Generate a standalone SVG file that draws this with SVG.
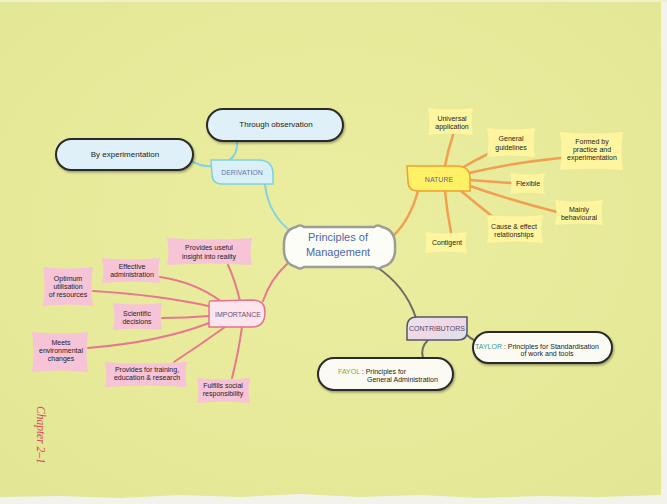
<svg xmlns="http://www.w3.org/2000/svg" width="667" height="504" viewBox="0 0 667 504">
<defs>
<radialGradient id="paper" cx="0.5" cy="0.45" r="0.7">
<stop offset="0" stop-color="#ecee9f"/>
<stop offset="1" stop-color="#e2e795"/>
</radialGradient>
<linearGradient id="contrib" x1="0" y1="0" x2="1" y2="1">
<stop offset="0" stop-color="#e8e4f0"/>
<stop offset="0.5" stop-color="#f0d8e4"/>
<stop offset="1" stop-color="#d8e4ee"/>
</linearGradient>
<filter id="soft" x="-10%" y="-10%" width="120%" height="120%">
<feGaussianBlur stdDeviation="0.7"/>
</filter>
<filter id="shadow" x="-10%" y="-20%" width="125%" height="150%">
<feDropShadow dx="1" dy="1.5" stdDeviation="0.8" flood-color="#000" flood-opacity="0.35"/>
</filter>
</defs>
<style>
text{font-family:"Liberation Sans",Arial,sans-serif;fill:#222;}
.c{text-anchor:middle;font-size:7px;}
.p{text-anchor:middle;font-size:8px;}
.lbl{text-anchor:middle;font-size:7px;}
.ylw{fill:#fff59e;filter:url(#soft);}
.pnk{fill:#f7c3d6;filter:url(#soft);}
.pill{stroke:#2a2a2a;stroke-width:2;filter:url(#shadow);}
.blue{fill:#dff0f8;}
.white{fill:#fbfbf4;}
.conn{fill:none;stroke-linecap:round;}
.or{stroke:#f0a050;stroke-width:2.5;}
.pk{stroke:#e8788f;stroke-width:2;}
.cy{stroke:#86d2e2;stroke-width:2;}
.gy{stroke:#6c6c66;stroke-width:2;}
</style>
<rect x="0" y="0" width="667" height="504" fill="url(#paper)"/>
<rect x="661" y="0" width="6" height="504" fill="#f3f3ec"/>
<path d="M0,497 L60,496 L120,498 L180,495 L240,497 L300,494 L360,497 L420,495 L480,498 L540,496 L600,497 L661,495 L667,504 L0,504 Z" fill="#f3f3ec"/>
<rect x="0" y="0" width="667" height="2" fill="#eef0c8"/>

<g id="connectors">
<path class="conn cy" d="M193,162 Q203,167 212,166"/>
<path class="conn cy" d="M237,141 Q238,155 229,160"/>
<path class="conn cy" d="M265,184 Q268,215 293,233"/>
<path class="conn or" d="M393,236 Q410,220 418,191"/>
<path class="conn or" d="M445,166 Q448,150 453,135"/>
<path class="conn or" d="M462,168 Q475,160 488,154"/>
<path class="conn or" d="M469,173 Q510,163 561,158"/>
<path class="conn or" d="M470,180 L511,183"/>
<path class="conn or" d="M470,186 Q510,200 557,212"/>
<path class="conn or" d="M461,191 Q478,205 493,217"/>
<path class="conn or" d="M445,191 Q447,212 451,232"/>
<path class="conn pk" d="M263,301 Q270,280 287,264"/>
<path class="conn pk" d="M240,301 Q235,280 228,265"/>
<path class="conn pk" d="M222,302 Q195,282 160,277"/>
<path class="conn pk" d="M213,307 Q160,295 93,291"/>
<path class="conn pk" d="M209,316 Q185,318 162,318"/>
<path class="conn pk" d="M209,323 Q160,342 88,348"/>
<path class="conn pk" d="M225,327 Q200,345 174,362"/>
<path class="conn pk" d="M242,327 Q238,355 232,378"/>
<path class="conn gy" d="M375,266 Q405,285 416,318"/>
<path class="conn gy" d="M467,335 Q470,338 474,340"/>
<path class="conn gy" d="M428,340 Q420,348 423,358"/>
</g>

<g id="center">
<path d="M296,227 Q300,224 304,227 L374,227 Q378,224 382,227 Q396,230 395,247 Q396,264 382,267 Q378,270 374,267 L304,267 Q300,270 296,267 Q283,264 284,247 Q283,230 296,227 Z" fill="#fdfdf8" stroke="#9c9c98" stroke-width="2.5"/>
<text x="338" y="241" style="text-anchor:middle;font-size:11px;fill:#4a68a8;">Principles of</text>
<text x="338" y="256" style="text-anchor:middle;font-size:11px;fill:#4a68a8;">Management</text>
</g>

<g id="derivation">
<path d="M211,160 L258,160 Q273,160 273,174 L273,184 L222,184 Q212,184 212,174 Z" fill="#d9f0f6" stroke="#80d0e0" stroke-width="1.5"/>
<text class="lbl" x="242" y="174.5" style="fill:#6876ae;">DERIVATION</text>
</g>
<g id="through-observation">
<rect class="pill blue" x="207" y="109" width="136" height="32" rx="16"/>
<text class="p" x="276" y="127">Through observation</text>
</g>
<g id="by-experimentation">
<rect class="pill blue" x="56" y="139" width="137" height="31" rx="15.5"/>
<text class="p" x="125" y="157">By experimentation</text>
</g>

<g id="nature">
<path d="M407,166 L456,166 Q470,166 470,178 L470,191 L418,191 Q408,191 408,181 Z" fill="#fff165" stroke="#f0a030" stroke-width="1.5"/>
<text class="lbl" x="439" y="181.5" style="fill:#6a5a9c;">NATURE</text>
</g>
<g id="universal-application">
<path class="ylw" d="M428,108 Q450.5,111 473,108 Q470,121.5 473,135 Q450.5,132 428,135 Q431,121.5 428,108 Z"/>
<text class="c" x="452" y="120.5">Universal</text>
<text class="c" x="452" y="128.5">application</text>
</g>
<g id="general-guidelines">
<path class="ylw" d="M487,128 Q511,131 535,128 Q532,142.5 535,157 Q511,154 487,157 Q490,142.5 487,128 Z"/>
<text class="c" x="511" y="140.5">General</text>
<text class="c" x="511" y="149.5">guidelines</text>
</g>
<g id="formed-by-practice">
<path class="ylw" d="M560,132 Q591.5,135 623,132 Q620,151 623,170 Q591.5,167 560,170 Q563,151 560,132 Z"/>
<text class="c" x="592" y="143.5">Formed by</text>
<text class="c" x="592" y="151.5">practice and</text>
<text class="c" x="592" y="159.5">experimentation</text>
</g>
<g id="flexible">
<path class="ylw" d="M510,173 Q527.5,176 545,173 Q542,183.5 545,194 Q527.5,191 510,194 Q513,183.5 510,173 Z"/>
<text class="c" x="528" y="186">Flexible</text>
</g>
<g id="mainly-behavioural">
<path class="ylw" d="M555,200 Q579,203 603,200 Q600,212.5 603,225 Q579,222 555,225 Q558,212.5 555,200 Z"/>
<text class="c" x="579" y="211.5">Mainly</text>
<text class="c" x="579" y="219.5">behavioural</text>
</g>
<g id="cause-effect">
<path class="ylw" d="M487,215 Q515,218 543,215 Q540,229 543,243 Q515,240 487,243 Q490,229 487,215 Z"/>
<text class="c" x="514" y="228.5">Cause &amp; effect</text>
<text class="c" x="514" y="236.5">relationships</text>
</g>
<g id="contigent">
<path class="ylw" d="M425,232 Q446,235 467,232 Q464,242.5 467,253 Q446,250 425,253 Q428,242.5 425,232 Z"/>
<text class="c" x="447" y="245">Contigent</text>
</g>

<g id="importance">
<path d="M210,301 L252,300 Q265,300 265,312 Q265,327 252,327 L209,327 L209,306 Q209,301 210,301 Z" fill="#fde5ed" stroke="#e87090" stroke-width="1.5"/>
<text class="lbl" x="238" y="316.5" style="fill:#7a4a6e;">IMPORTANCE</text>
</g>
<g id="provides-useful-insight">
<path class="pnk" d="M167,238 Q209.5,241 252,238 Q249,251.5 252,265 Q209.5,262 167,265 Q170,251.5 167,238 Z"/>
<text class="c" x="209" y="249.5">Provides useful</text>
<text class="c" x="209" y="258.5">insight into reality</text>
</g>
<g id="effective-administration">
<path class="pnk" d="M102,258 Q131,261 160,258 Q157,270.5 160,283 Q131,280 102,283 Q105,270.5 102,258 Z"/>
<text class="c" x="132" y="268.5">Effective</text>
<text class="c" x="132" y="276.5">administration</text>
</g>
<g id="optimum-utilisation">
<path class="pnk" d="M43,267 Q68,270 93,267 Q90,286.5 93,306 Q68,303 43,306 Q46,286.5 43,267 Z"/>
<text class="c" x="68" y="280.5">Optimum</text>
<text class="c" x="68" y="288.5">utilisation</text>
<text class="c" x="68" y="296.5">of resources</text>
</g>
<g id="scientific-decisions">
<path class="pnk" d="M113,303 Q137.5,306 162,303 Q159,316.5 162,330 Q137.5,327 113,330 Q116,316.5 113,303 Z"/>
<text class="c" x="137" y="315.5">Scientific</text>
<text class="c" x="137" y="323.5">decisions</text>
</g>
<g id="meets-environmental-changes">
<path class="pnk" d="M32,332 Q60,335 88,332 Q85,352 88,372 Q60,369 32,372 Q35,352 32,332 Z"/>
<text class="c" x="61" y="344.5">Meets</text>
<text class="c" x="61" y="352.5">environmental</text>
<text class="c" x="61" y="360.5">changes</text>
</g>
<g id="provides-for-training">
<path class="pnk" d="M105,362 Q146,365 187,362 Q184,374.5 187,387 Q146,384 105,387 Q108,374.5 105,362 Z"/>
<text class="c" x="147" y="371.5">Provides for training,</text>
<text class="c" x="147" y="379.5">education &amp; research</text>
</g>
<g id="fulfills-social-responsibility">
<path class="pnk" d="M197,378 Q223.5,381 250,378 Q247,390.5 250,403 Q223.5,400 197,403 Q200,390.5 197,378 Z"/>
<text class="c" x="223" y="387.5">Fulfills social</text>
<text class="c" x="223" y="395.5">responsibility</text>
</g>

<g id="contributors">
<path d="M417,317 L467,317 L467,332 Q467,340 458,340 L407,340 L407,327 Q407,317 417,317 Z" fill="url(#contrib)" stroke="#55556a" stroke-width="1.5"/>
<text class="lbl" x="437" y="330.5" style="fill:#55486e;">CONTRIBUTORS</text>
</g>
<g id="taylor">
<rect class="pill white" x="473" y="332" width="139" height="31" rx="15.5"/>
<text x="475" y="348.5" style="font-size:7px;"><tspan style="fill:#3a9c98;">TAYLOR</tspan> : Principles for Standardisation</text>
<text x="547" y="356" style="font-size:7px;text-anchor:middle;">of work and tools</text>
</g>
<g id="fayol">
<rect class="pill white" x="318" y="358" width="135" height="32" rx="16"/>
<text x="338" y="373.5" style="font-size:7px;"><tspan style="fill:#72ae4a;">FAYOL</tspan> : Principles for</text>
<text x="367" y="381.5" style="font-size:7px;">General Administration</text>
</g>

<text transform="translate(37,406) rotate(90)" style="font-family:'Liberation Serif',serif;font-style:italic;font-size:11.5px;fill:#e0455e;">Chapter  2–1</text>
</svg>
